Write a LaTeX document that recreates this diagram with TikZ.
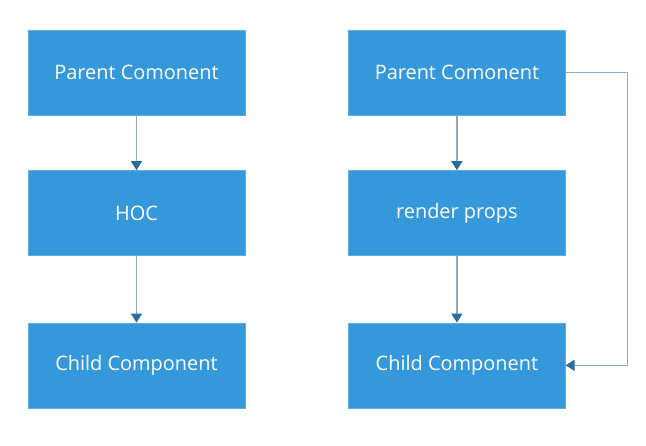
\documentclass[tikz,border=0pt]{standalone}
\usepackage{fontspec}
\setmainfont{Open Sans}
\usetikzlibrary{positioning,arrows.meta}

\definecolor{boxfill}{HTML}{3598DB}
\definecolor{boxedge}{HTML}{5DAEE3}
\definecolor{linkline}{HTML}{86AECB}
\definecolor{linktip}{HTML}{2B6C9E}

\begin{document}
\begin{tikzpicture}[
    x=1bp, y=1bp,
    node distance=55bp and 103bp,
    block/.style={draw=boxedge, fill=boxfill, text=white, minimum width=217bp, minimum height=85bp, inner sep=0pt, font=\fontsize{20}{22}\selectfont},
    link/.style={draw=linkline, line width=1.3bp, -{Triangle[width=11bp,length=9bp,color=linktip]}}
]
\useasboundingbox (0,0) rectangle (646,-446);

% Left column
\node[block] (P1) at (136.5,-72.5) {Parent Comonent};
\node[block, below=of P1] (H1) {HOC};
\node[block, below=67bp of H1] (C1) {Child Component};

% Right column
\node[block, right=of P1] (P2) {Parent Comonent};
\node[block, below=of P2] (R2) {render props};
\node[block, below=67bp of R2] (C2) {Child Component};

% Connections
\draw[link] (P1) -- (H1);
\draw[link] (H1) -- (C1);
\draw[link] (P2) -- (R2);
\draw[link] (R2) -- (C2);
\draw[link] (P2.east) -- ++(62,0) |- (C2.east);

\end{tikzpicture}
\end{document}
